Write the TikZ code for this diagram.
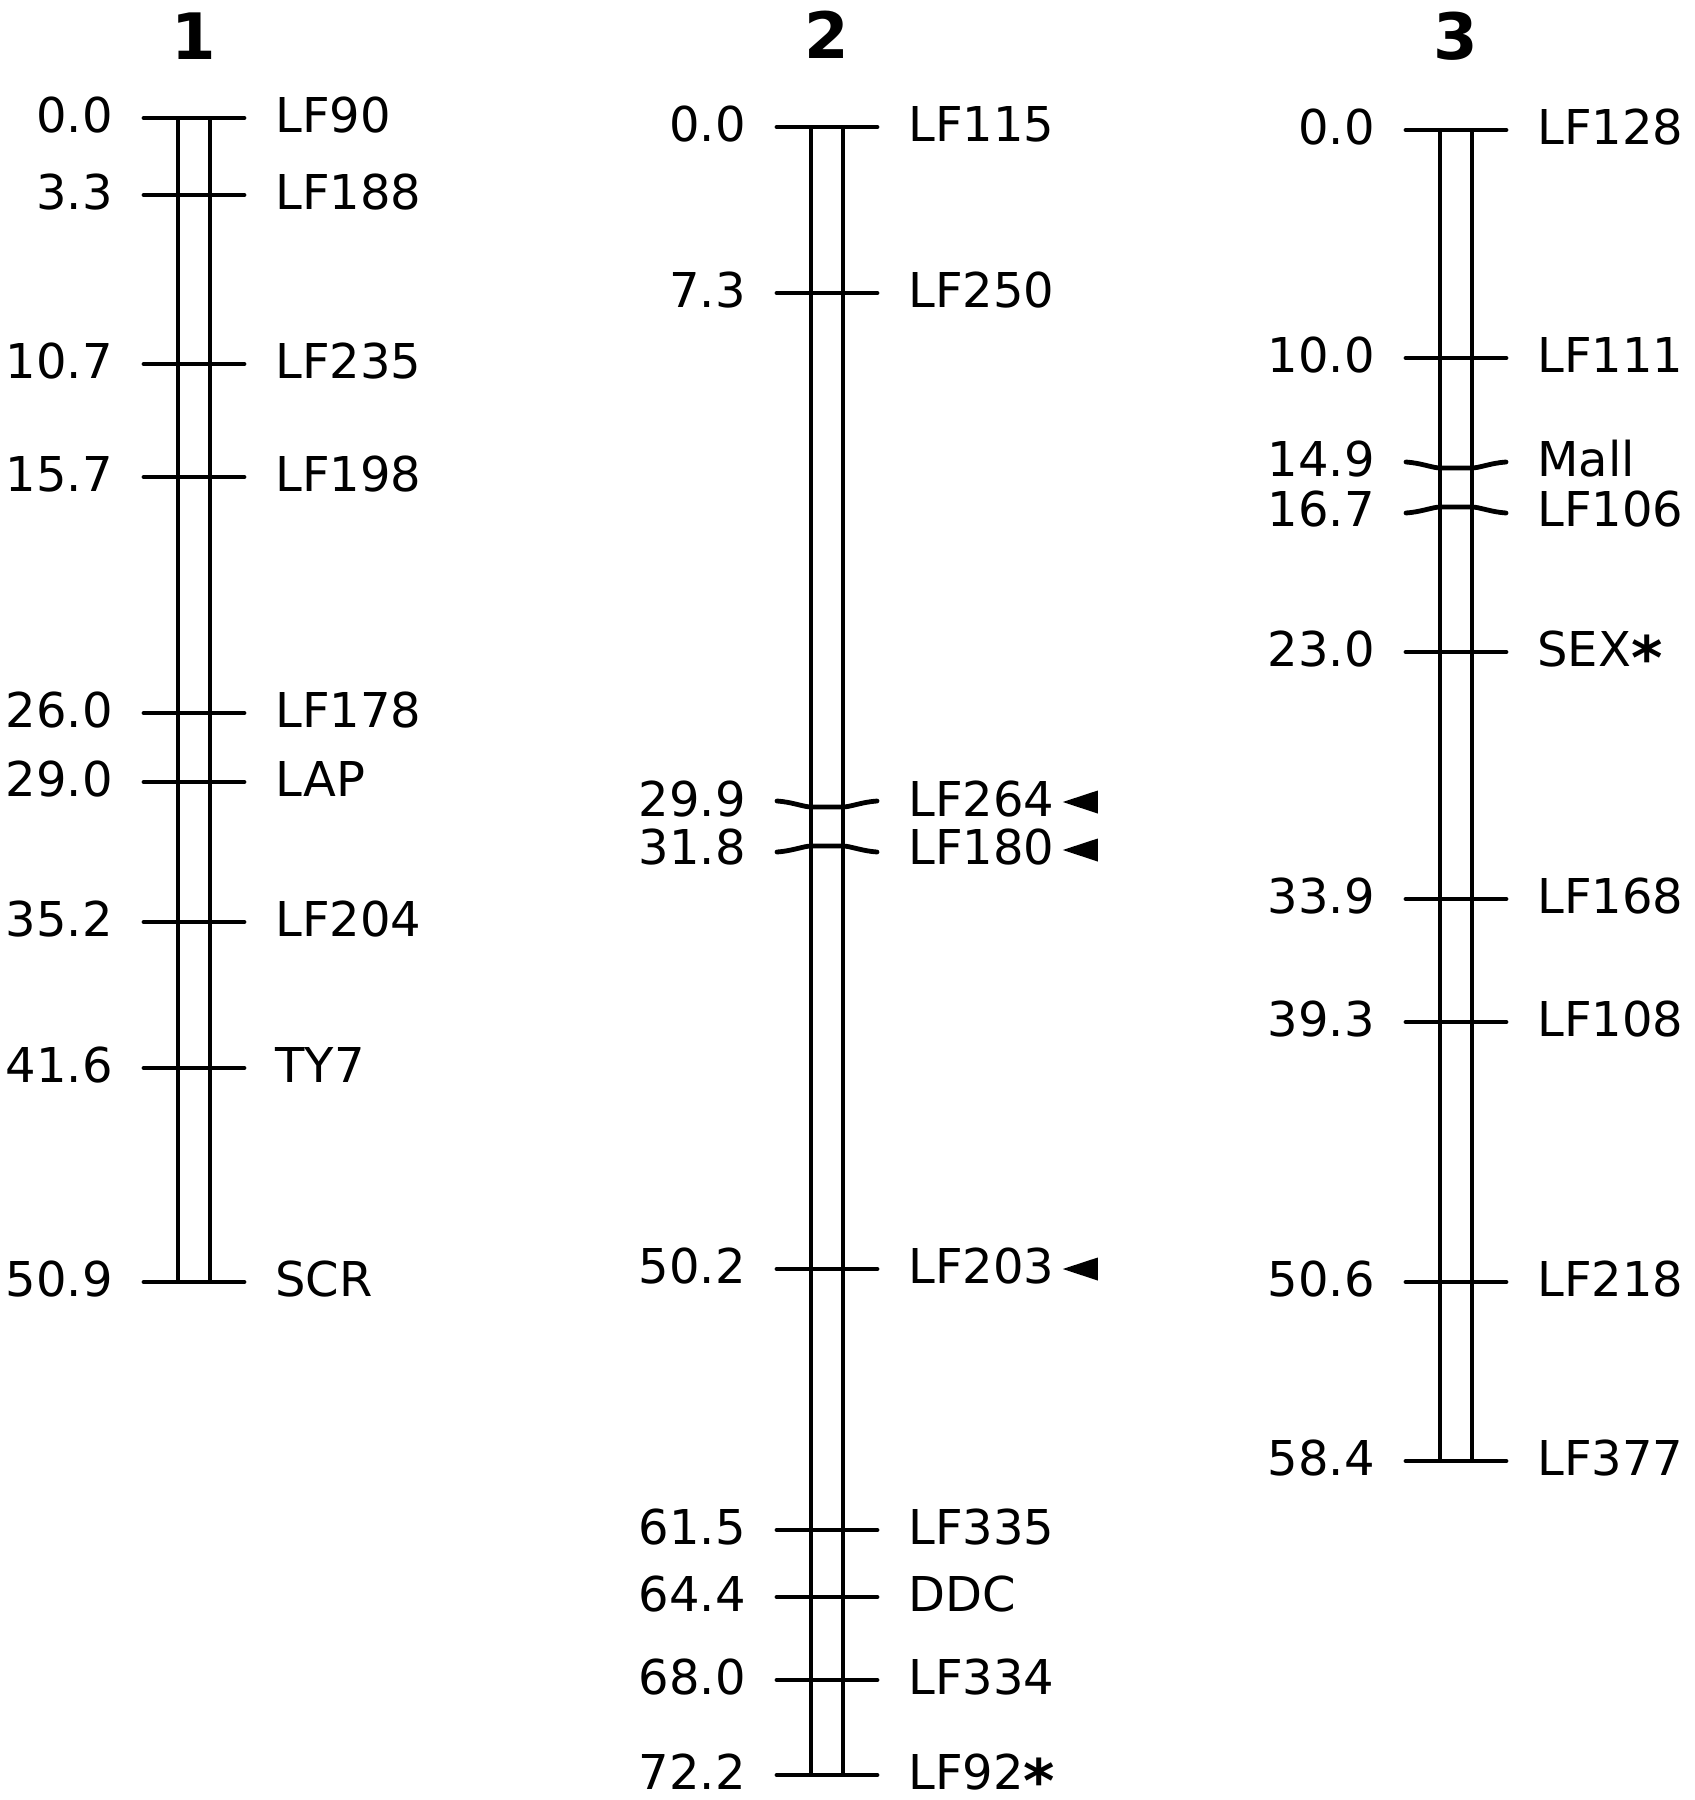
\documentclass[tikz,border=0pt]{standalone}
\usepackage{fontspec}
\setmainfont{DejaVu Sans}
\newcommand\mkr[5]{%
  \draw[tickline] (#1-50,#2) -- (#1+50,#2);
  \node[poslab] (p#5) at (#1-81,#2) {#3};
  \node[namelab] (n#5) at (#1+81,#2) {#4};
}
\newcommand\lowast{\raisebox{-6.5pt}{\fontsize{30pt}{30pt}\selectfont\bfseries *}}
\begin{document}
\begin{tikzpicture}[x=0.5pt,y=-0.5pt,
  tickline/.style={line width=2.4pt,line cap=round},
  barline/.style={line width=2.1pt},
  poslab/.style={anchor=east,inner sep=0pt,yshift=1.5pt,font=\fontsize{24pt}{28pt}\selectfont,text height=17.5pt,text depth=0pt},
  namelab/.style={anchor=west,inner sep=0pt,yshift=1.5pt,font=\fontsize{24pt}{28pt}\selectfont,text height=17.5pt,text depth=0pt},
  title/.style={inner sep=0pt,font=\fontsize{32pt}{36pt}\selectfont\bfseries}]
\useasboundingbox (0,0) rectangle (1695,1800);
% titles
\node[title] (t1) at (194,36) {1};
\node[title] (t2) at (827,35) {2};
\node[title] (t3) at (1456,36) {3};
% chromosome 1
\draw[barline] (178,118) -- (178,1282) (210,118) -- (210,1282);
\mkr{194}{118}{0.0}{LF90}{a1}
\mkr{194}{195}{3.3}{LF188}{a2}
\mkr{194}{364}{10.7}{LF235}{a3}
\mkr{194}{477}{15.7}{LF198}{a4}
\mkr{194}{713}{26.0}{LF178}{a5}
\mkr{194}{782}{29.0}{LAP}{a6}
\mkr{194}{922}{35.2}{LF204}{a7}
\mkr{194}{1068}{41.6}{TY7}{a8}
\mkr{194}{1282}{50.9}{SCR}{a9}
% chromosome 2
\draw[barline] (811,127) -- (811,1775) (843,127) -- (843,1775);
\mkr{827}{127}{0.0}{LF115}{b1}
\mkr{827}{293}{7.3}{LF250}{b2}
\draw[tickline] (777,801) .. controls (792,802) and (804,807) .. (811,807) -- (843,807) .. controls (850,807) and (862,802) .. (877,801);
\node[poslab] (pb3) at (746,802) {29.9};
\node[namelab] (nb3) at (908,802) {LF264};
\draw[tickline] (777,852) .. controls (792,851) and (804,846) .. (811,846) -- (843,846) .. controls (850,846) and (862,851) .. (877,852);
\node[poslab] (pb4) at (746,850) {31.8};
\node[namelab] (nb4) at (908,850) {LF180};
\mkr{827}{1269}{50.2}{LF203}{b5}
\mkr{827}{1530}{61.5}{LF335}{b6}
\mkr{827}{1597}{64.4}{DDC}{b7}
\mkr{827}{1680}{68.0}{LF334}{b8}
\mkr{827}{1775}{72.2}{LF92\lowast}{b9}
\fill ([xshift=4pt,yshift=-1.5pt]nb3.east) -- ++(35,-11.5) -- ++(0,23) -- cycle;
\fill ([xshift=4pt,yshift=-1.5pt]nb4.east) -- ++(35,-11.5) -- ++(0,23) -- cycle;
\fill ([xshift=4pt,yshift=-1.5pt]nb5.east) -- ++(35,-11.5) -- ++(0,23) -- cycle;
% chromosome 3
\draw[barline] (1440,130) -- (1440,1461) (1472,130) -- (1472,1461);
\mkr{1456}{130}{0.0}{LF128}{c1}
\mkr{1456}{358}{10.0}{LF111}{c2}
\draw[tickline] (1406,462) .. controls (1421,463) and (1433,468) .. (1440,468) -- (1472,468) .. controls (1479,468) and (1491,463) .. (1506,462);
\node[poslab] (pc3) at (1375,462) {14.9};
\node[namelab] (nc3) at (1537,462) {Mall};
\draw[tickline] (1406,513) .. controls (1421,512) and (1433,507) .. (1440,507) -- (1472,507) .. controls (1479,507) and (1491,512) .. (1506,513);
\node[poslab] (pc4) at (1375,512) {16.7};
\node[namelab] (nc4) at (1537,512) {LF106};
\mkr{1456}{652}{23.0}{SEX\lowast}{c5}
\mkr{1456}{899}{33.9}{LF168}{c6}
\mkr{1456}{1022}{39.3}{LF108}{c7}
\mkr{1456}{1282}{50.6}{LF218}{c8}
\mkr{1456}{1461}{58.4}{LF377}{c9}
\end{tikzpicture}
\end{document}
